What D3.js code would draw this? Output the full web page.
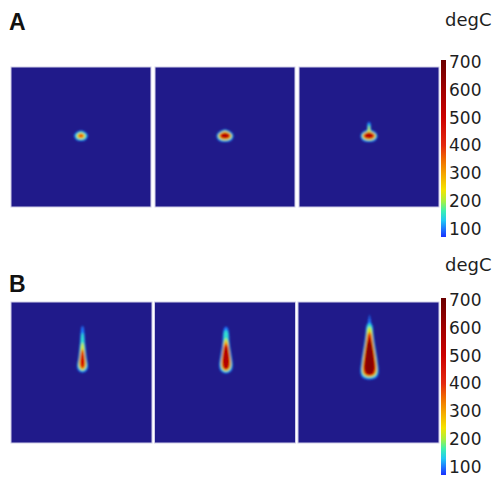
<!DOCTYPE html>
<html lang="en">
<head>
    <title>Temperature fields</title>
    <script src="https://d3js.org/d3.v7.min.js"></script>
    <style>
        body { margin: 0; background: #fff; }
        .cbar text { font-family: "DejaVu Sans", sans-serif; font-size: 17px; fill: #1e1e1e; }
        .unit { font-family: "DejaVu Sans", sans-serif; font-size: 18px; fill: #1e1e1e; }
        .tag { font-family: "Liberation Sans", Arial, sans-serif; font-size: 23px; font-weight: bold; fill: #111; }
    </style>
</head>
<body>
    <svg id="plot"></svg>

    <script>
        // colour table (degC -> colour)
        var cTemps = [71, 100, 130, 165, 200, 240, 300, 350, 400, 500, 600, 707];
        var cColors = ["#1830ff", "#1e78ff", "#20c8f4", "#3cf0b0", "#a8f040", "#f4e400", "#f4a400",
                       "#f06a00", "#e42a10", "#cc0000", "#a00000", "#6a0000"];
        var tickValues = [100, 200, 300, 400, 500, 600, 700];
        var unitLabel = "degC";
        var rowLabels = ["A", "B"];

        // isotherms per panel: level (degC), x offset of the spot (mm),
        // and the profile [height y (mm), half width (mm)] from bottom to top
        var rowA = [
            { dx: 0, iso: [
                [100, [[-0.4,0],[-0.3,0.45],[-0.05,0.64],[0.2,0.68],[0.42,0.52],[0.58,0.28],[0.66,0]]],
                [150, [[-0.3,0],[-0.22,0.38],[0,0.54],[0.2,0.56],[0.38,0.4],[0.52,0.18],[0.57,0]]],
                [220, [[-0.2,0],[-0.12,0.3],[0.05,0.42],[0.2,0.42],[0.34,0.28],[0.46,0]]],
                [300, [[-0.12,0],[-0.05,0.24],[0.1,0.32],[0.25,0.26],[0.36,0]]],
                [380, [[-0.05,0],[0.02,0.16],[0.12,0.22],[0.22,0.15],[0.29,0]]]
            ]},
            { dx: 0, iso: [
                [100, [[-0.5,0],[-0.4,0.55],[-0.12,0.8],[0.2,0.83],[0.47,0.64],[0.65,0.36],[0.76,0]]],
                [150, [[-0.4,0],[-0.3,0.48],[-0.05,0.72],[0.2,0.74],[0.43,0.55],[0.6,0.3],[0.67,0]]],
                [220, [[-0.32,0],[-0.22,0.44],[0,0.65],[0.2,0.66],[0.4,0.48],[0.56,0.2],[0.6,0]]],
                [300, [[-0.26,0],[-0.16,0.42],[0.05,0.58],[0.22,0.58],[0.38,0.42],[0.53,0]]],
                [400, [[-0.19,0],[-0.1,0.37],[0.08,0.5],[0.25,0.48],[0.4,0.26],[0.46,0]]],
                [560, [[-0.1,0],[-0.03,0.27],[0.1,0.38],[0.25,0.33],[0.37,0]]]
            ]},
            { dx: 0, iso: [
                [100, [[-0.5,0],[-0.4,0.55],[-0.12,0.8],[0.2,0.83],[0.47,0.66],[0.64,0.36],[0.76,0.2],[1.0,0.18],[1.38,0.15],[1.52,0]]],
                [150, [[-0.4,0],[-0.3,0.48],[-0.05,0.73],[0.2,0.76],[0.43,0.57],[0.6,0.28],[0.72,0.15],[1.1,0.13],[1.32,0]]],
                [220, [[-0.32,0],[-0.22,0.44],[0,0.66],[0.2,0.67],[0.4,0.5],[0.55,0.2],[0.65,0.1],[0.95,0.08],[1.06,0]]],
                [300, [[-0.26,0],[-0.16,0.42],[0.05,0.6],[0.22,0.6],[0.38,0.42],[0.53,0]]],
                [400, [[-0.19,0],[-0.1,0.38],[0.08,0.52],[0.25,0.5],[0.4,0.27],[0.47,0]]],
                [560, [[-0.1,0],[-0.03,0.28],[0.1,0.4],[0.25,0.35],[0.38,0]]]
            ]}
        ];
        var rowB = [
            { dx: 0.1, iso: [
                [100, [[0.0,0],[0.18,0.4],[0.6,0.55],[1.2,0.46],[2.0,0.35],[3.0,0.25],[4.0,0.18],[4.5,0.1],[4.65,0]]],
                [150, [[0.12,0],[0.3,0.32],[0.7,0.46],[1.4,0.36],[2.2,0.27],[3.2,0.17],[3.8,0.1],[3.95,0]]],
                [220, [[0.22,0],[0.4,0.27],[0.8,0.38],[1.5,0.29],[2.2,0.2],[2.8,0.1],[2.95,0]]],
                [300, [[0.3,0],[0.5,0.23],[0.9,0.31],[1.6,0.23],[2.2,0.12],[2.4,0]]],
                [400, [[0.4,0],[0.6,0.18],[1.0,0.25],[1.7,0.18],[2.1,0.08],[2.2,0]]],
                [480, [[0.5,0],[0.7,0.13],[1.1,0.18],[1.6,0.12],[1.9,0]]]
            ]},
            { dx: 0.1, iso: [
                [100, [[-0.1,0],[0.12,0.5],[0.6,0.67],[1.4,0.6],[2.2,0.46],[3.0,0.35],[4.0,0.28],[4.45,0.16],[4.55,0]]],
                [150, [[0.02,0],[0.22,0.42],[0.7,0.58],[1.5,0.5],[2.3,0.37],[3.1,0.26],[4.0,0.19],[4.22,0]]],
                [220, [[0.12,0],[0.33,0.37],[0.8,0.51],[1.6,0.43],[2.4,0.31],[3.1,0.18],[3.4,0]]],
                [300, [[0.2,0],[0.4,0.33],[0.9,0.46],[1.8,0.37],[2.6,0.24],[3.0,0.12],[3.1,0]]],
                [400, [[0.25,0],[0.45,0.28],[1.0,0.4],[1.9,0.32],[2.7,0.16],[2.8,0]]],
                [560, [[0.35,0],[0.55,0.22],[1.1,0.3],[2.0,0.22],[2.5,0.1],[2.6,0]]]
            ]},
            { dx: 0.1, iso: [
                [100, [[-0.7,0],[-0.5,0.7],[0,0.9],[0.8,0.85],[1.8,0.7],[2.8,0.54],[3.8,0.4],[4.6,0.32],[5.0,0.16],[5.4,0.08],[5.75,0]]],
                [150, [[-0.58,0],[-0.38,0.62],[0.1,0.82],[0.9,0.76],[1.9,0.62],[2.9,0.45],[3.9,0.33],[4.6,0.25],[4.88,0]]],
                [220, [[-0.47,0],[-0.27,0.56],[0.2,0.74],[1.0,0.69],[2.0,0.55],[3.0,0.39],[4.0,0.26],[4.4,0.16],[4.52,0]]],
                [300, [[-0.4,0],[-0.2,0.5],[0.3,0.68],[1.1,0.62],[2.1,0.48],[3.1,0.32],[3.9,0.18],[4.1,0]]],
                [400, [[-0.35,0],[-0.15,0.46],[0.4,0.62],[1.2,0.56],[2.2,0.42],[3.2,0.26],[3.8,0.12],[3.9,0]]],
                [550, [[-0.25,0],[-0.05,0.4],[0.5,0.54],[1.3,0.48],[2.3,0.34],[3.2,0.18],[3.6,0]]],
                [650, [[-0.15,0],[0.05,0.3],[0.6,0.42],[1.4,0.36],[2.4,0.24],[3.0,0.1],[3.1,0]]]
            ]}
        ];

        var W = 493, H = 477;
        var bg = "#201a8a";

        var svg = d3.select("#plot").attr("width", W).attr("height", H);
        var defs = svg.append("defs");

        defs.append("filter").attr("id", "soft")
            .attr("x", "-50%").attr("y", "-50%").attr("width", "200%").attr("height", "200%")
            .append("feGaussianBlur").attr("stdDeviation", 1.0);

        var color = d3.scaleLinear().domain(cTemps).range(cColors).clamp(true);

        var grad = defs.append("linearGradient").attr("id", "cbarGrad")
            .attr("x1", 0).attr("y1", 1).attr("x2", 0).attr("y2", 0);
        grad.selectAll("stop").data(cTemps).enter().append("stop")
            .attr("offset", function (d) { return (d - cTemps[0]) / (cTemps[cTemps.length - 1] - cTemps[0]); })
            .attr("stop-color", function (d) { return color(d); });

        var rows = [
            { label: rowLabels[0], data: rowA, y: 67, h: 140, pad: 0.028, tagY: 30, unitY: 26, cbar: [237, 60] },
            { label: rowLabels[1], data: rowB, y: 302, h: 141, pad: 0.0174, tagY: 292, unitY: 271, cbar: [475, 298] }
        ];

        var outline = d3.line().curve(d3.curveCatmullRomClosed.alpha(0.5));

        rows.forEach(function (row, r) {
            var band = d3.scaleBand().domain(d3.range(3)).range([11, 439]).paddingInner(row.pad);
            var bw = band.bandwidth();

            svg.append("text").attr("class", "tag")
                .attr("x", 9).attr("y", row.tagY).text(row.label);

            row.data.forEach(function (panel, i) {
                var x0 = band(i);
                var sx = d3.scaleLinear().domain([-7, 7]).range([x0, x0 + bw]);
                var sy = d3.scaleLinear().domain([-7, 7]).range([row.y + row.h, row.y]);

                var clipId = "clip" + r + i;
                defs.append("clipPath").attr("id", clipId)
                    .append("rect").attr("x", x0).attr("y", row.y).attr("width", bw).attr("height", row.h);

                svg.append("rect")
                    .attr("x", x0).attr("y", row.y).attr("width", bw).attr("height", row.h)
                    .attr("fill", bg).attr("stroke", "#cfcde8").attr("stroke-width", 1);

                var g = svg.append("g").attr("clip-path", "url(#" + clipId + ")")
                    .append("g").attr("filter", "url(#soft)");

                g.selectAll("path").data(panel.iso).enter().append("path")
                    .attr("fill", function (d) { return color(d[0]); })
                    .attr("d", function (d) {
                        var prof = d[1];
                        var pts = prof.map(function (p) { return [sx(panel.dx + p[1]), sy(p[0])]; });
                        var back = prof.slice(1, -1).reverse().map(function (p) { return [sx(panel.dx - p[1]), sy(p[0])]; });
                        return outline(pts.concat(back));
                    });
            });

            // colour bar
            var cs = d3.scaleLinear().domain([cTemps[0], cTemps[cTemps.length - 1]]).range(row.cbar);
            svg.append("rect")
                .attr("x", 441).attr("y", row.cbar[1]).attr("width", 5).attr("height", row.cbar[0] - row.cbar[1])
                .attr("fill", "url(#cbarGrad)");
            var ax = svg.append("g").attr("class", "cbar")
                .attr("transform", "translate(446,0)")
                .call(d3.axisRight(cs).tickValues(tickValues).tickSize(0).tickPadding(3));
            ax.select(".domain").remove();
            ax.selectAll("text").attr("fill", null);

            svg.append("text").attr("class", "unit")
                .attr("x", 445).attr("y", row.unitY).text(unitLabel);
        });
    </script>
</body>
</html>
